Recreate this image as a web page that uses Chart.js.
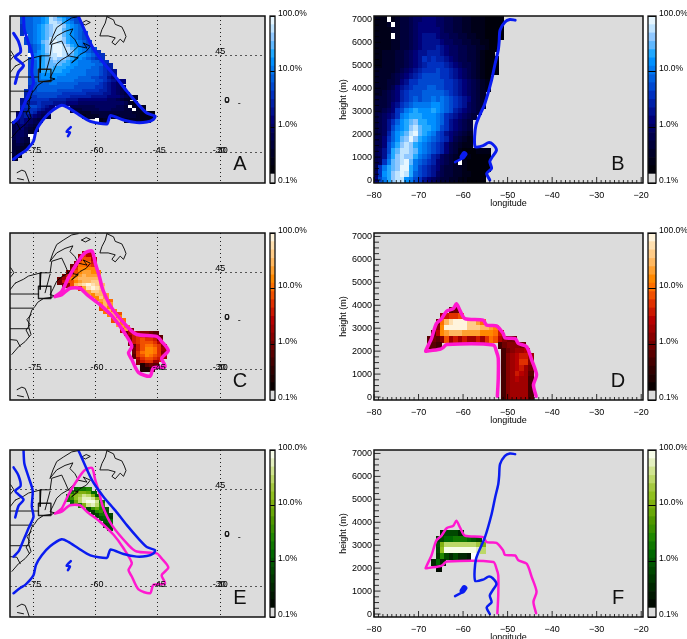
<!DOCTYPE html>
<html>
<head>
<meta charset="utf-8">
<title>Plume panels</title>
<script src="https://cdn.jsdelivr.net/npm/chart.js@4"></script>
<style>
body { margin: 0; background: #fff; overflow: hidden; }
#page { position: relative; width: 687px; height: 639px; overflow: hidden; }
canvas { position: absolute; filter: blur(0.35px); }
</style>
</head>
<body>
<div id="page"></div>
<script>
// colour bar: upper edge of each band in percent
var bandEdges = [0.1, 0.145, 0.205, 0.288, 0.406, 0.573, 0.807, 1.14, 1.6, 2.26, 3.19, 4.5, 6.34, 8.9, 12.6, 17.7, 25, 35, 49.7, 70, 100];
var blues = ["#dcdcdc","#00000a","#000018","#000028","#00003a","#00004c","#000060","#000078","#001090","#0020a8","#0030c0","#0048d0","#0060e0","#0078f0","#0090ff","#20a8ff","#60b8ff","#90c8ff","#c0e4ff","#e6f6ff"];
var reds = ["#dcdcdc","#0a0000","#200000","#300000","#440000","#5a0000","#700000","#880000","#a00000","#b80000","#cc1800","#e03000","#f05000","#ff7000","#ff8800","#ffa030","#ffb860","#ffcc88","#ffe0b0","#fff4dc"];
var greens = ["#dcdcdc","#000a00","#001800","#002800","#003800","#004800","#005800","#006800","#107800","#208800","#3a9000","#509800","#68a808","#80b010","#90c020","#a4c840","#bcd868","#d0e490","#e4f0c0","#f6fce8"];
var barTicks = [0.1, 1, 10, 100];

var mapLonTicks = [-75, -60, -45, -30];
var mapLatTicks = [45, 30];
var lonTicks = [-80, -70, -60, -50, -40, -30, -20];
var heightTicks = [0, 1000, 2000, 3000, 4000, 5000, 6000, 7000];
// text, lon, lat
var mapLabels = [["-75",-74.7,30],["-60",-59.7,30],["-45",-44.7,30],["-30",-30.2,30],["30",-29.4,30],["45",-30,45.3],["0",-28.4,37.8],["0",-28.3,37.8],["-",-28.35,37.6],["-",-25.4,37.2]];

// coast and border lines, lon/lat
var coastNorthShore = [[-64.2,51.1],[-65.8,50.9],[-67.8,50.1],[-69.4,49.4],[-70.3,48.1],[-71,46.8]];
var coastSouthShore = [[-71,46.8],[-69.4,48.1],[-67.4,48.8],[-65.5,49.2],[-66.2,48.3],[-65,47.5],[-64.2,46.5],[-66.6,45],[-68.2,44.4],[-69.4,43.7],[-70.2,42.6],[-71,41.6],[-69.8,41.4],[-70.6,41.2],[-72.6,41],[-74,40.4],[-74.6,39.8],[-75.4,39.2],[-76,38],[-76.2,36.7],[-75.6,35.4],[-77,34.3],[-78.6,33.5],[-80.2,32.3]];
var coastNovaScotia = [[-64.2,46.5],[-62.1,46.2],[-63,47],[-61.3,46.5],[-62.3,45.7],[-63.8,45.2],[-65.8,43.9],[-64.2,44.7],[-66.6,45]];
var coastBay = [[-75.6,38.5],[-76.6,37.7],[-75.8,36.9],[-76.8,36.1],[-76,35.1]];
var borderCanada = [[-79.4,43.4],[-77.4,44],[-76.2,44.5],[-73.2,45],[-71,45],[-70.6,46.8],[-68.2,47.3],[-67.4,46.2],[-66.6,45]];
var borderVermont = [[-73.2,45],[-73.4,42.4]];
var borderNewHampshire = [[-71,44.8],[-72.2,41.9]];
var borderNewYork = [[-80.6,41.7],[-73.8,41.7]];
var borderPenn = [[-80.6,39.5],[-75.2,39.5]];
var borderVirginia = [[-80.6,36.3],[-76.2,36.3]];
var borderCarolina = [[-80.6,34.6],[-79,34.5],[-78.2,33.5]];
var lakeHuron = [[-80.5,45.8],[-79.7,45],[-80.6,44.3]];
var lakeErie = [[-79.4,43.4],[-80.6,42.4]];
var bahamasA = [[-79,26.8],[-77.8,27.2],[-77,27],[-76.4,26],[-76,25.2]];
var bahamasB = [[-78.9,25.9],[-77.4,25.7]];
var newfoundland = [[-57.3,51.1],[-55.7,50.6],[-55.3,49.9],[-53.7,49.5],[-53.1,48.7],[-52.7,48],[-53.3,47.1],[-54.1,47.6],[-55.3,46.7],[-56.1,47.1],[-55.3,47.8],[-57,48.1],[-59,48.1],[-58.5,49.1],[-57.7,50.1],[-57.3,51.1]];
var anticosti = [[-63.4,50.1],[-62.3,50.5],[-61.3,50.2],[-62.5,49.8],[-63.4,50.1]];
var siteBox = [[-73.8,42.9],[-70.8,42.9],[-70.8,41],[-73.8,41],[-73.8,42.9]];

// plume outlines on the map, lon/lat
var blueWest = [[-77.4,51.2],[-77.2,49.1],[-76.2,47],[-75.2,44.9],[-75.4,42.4],[-75,40.8],[-76.2,39],[-77.4,37.2],[-78.6,35.4],[-79.8,34.6]];
var blueMain = [[-79.8,28.9],[-78.2,29.7],[-77,30.2],[-76.2,30.7],[-75,31.7],[-74.4,33.3],[-73,34.8],[-71,36.2],[-68.2,37.3],[-66.6,36.9],[-64.2,35.9],[-61.3,34.8],[-57.3,34.4],[-56.9,35],[-56.4,35.7],[-53.3,35],[-50.1,34.6],[-47.7,34.7],[-46.1,35.1],[-45.7,35.6],[-47.7,36.1],[-49.7,37.4],[-52.5,39.5],[-55.3,41.8],[-58.1,43.9],[-60.9,46.5],[-64.2,51.2]];
var blueLakes = [[-79.8,48.5],[-78.6,47.2],[-78.1,45.6],[-79.4,44.8],[-77.4,43.5],[-78.6,42.5],[-79.4,40.7]];
var blueSpeck = [[-66,33.9],[-67,33.2],[-66.2,33.1],[-66.7,32.5]];
var pinkMap = [[-69.8,41.3],[-68.2,42.1],[-66.6,44.2],[-64.2,46.8],[-62.6,48.1],[-60.9,48.4],[-60.1,46.5],[-59.1,44.4],[-58.3,42.4],[-56.1,39.5],[-52.1,36.4],[-50.1,35.4],[-45.3,35.1],[-44.1,34.3],[-42.5,32.9],[-44.1,31.7],[-43.3,30.4],[-46.1,30.2],[-46.9,28.9],[-49.7,29.5],[-51.3,31.5],[-52.1,32.5],[-51.3,33.6],[-53.3,35.9],[-55.7,38],[-58.9,40],[-62.1,41.6],[-63.8,42.6],[-66.2,42.6],[-68.2,41.6],[-69.8,41.3]];

// plume outlines in the section, lon/height
var blueSection = [[-48.3,6970],[-49.5,7000],[-50.6,6890],[-51.7,6530],[-51.9,6020],[-52.1,5660],[-52.8,5080],[-53.6,4350],[-55.1,3340],[-57.1,2400],[-57.3,1450],[-55.5,1500],[-54.3,1630],[-53.4,1570],[-52.5,1310],[-53.4,1020],[-54,800],[-53.6,510],[-54.7,290],[-54,0]];
var blueDisc = [[-59.7,1130],[-60.1,1020]];
var blueTail = [[-60.3,930],[-61.8,780]];
var pinkSection = [[-52.3,30],[-52.1,820],[-52.1,1690],[-52.5,1980],[-53.2,2270],[-63.7,2290],[-64.5,2150],[-65.2,2080],[-68.1,2000],[-68.4,2000],[-67.1,2550],[-66,3200],[-64.8,3420],[-63.7,3740],[-62.2,3850],[-61.5,4070],[-60.7,3780],[-59.6,3420],[-55.5,3350],[-54.7,3130],[-52.5,3100],[-51,2770],[-50.6,2580],[-48.3,2550],[-47.6,2340],[-45.7,2190],[-44.6,1620],[-43.5,970],[-44.2,530],[-43.6,30]];

// heat cells: [lat or height, lon of first cell, one level per cell], "." empty, "w" white
var rowsA = [
[51,-80.5,"...bccddefihfedcb"],[50.5,-80.5,"...bccddefihgfdcb"],[50,-80.5,"...bccddefiihfedb"],[49.5,-80.5,"...accdefghiihfedc"],
[49,-80.5,"...accdefghiigfedc"],[48.5,-80.5,"...accdefghiigfedcb"],[48,-80.5,"....wcdefghiigfedcb"],[47.5,-80.5,"....bcdefgiiihfedcb"],
[47,-80.5,"....bcdeghijihfeedcb"],[46.5,-80.5,".....bcdfhijjihfedcb"],[46,-80.5,".....bcdfhijjiigfedcb"],[45.5,-80.5,".....bcefhijjiihfedcba"],
[45,-80.5,".....wdefgiijihgfeedcba"],[44.5,-80.5,".....bdefghihhgfeedcbaa"],[44,-80.5,".....bcefgghggfeedddccba"],[43.5,-80.5,".....bcefggggffeeddddcca9"],
[43,-80.5,".....bcefggfffeeddddccba9"],[42.5,-80.5,".....bcdfffffeeddddcccba98"],[42,-80.5,".....bcdeeeeeedddddcccba98"],[41.5,-80.5,".....bcdeeeedddddcccbbaa87"],
[41,-80.5,".....bcdddddddddcccccbba9877"],[40.5,-80.5,".....bbcccddcccccbbbbba9876"],[40,-80.5,".....abcccccccccbbbbbaa98765"],[39.5,-80.5,"....aabcccccbbbbbbaaaa998765"],
[39,-80.5,"....9abbbbbbbaaaaaa9999887654"],[38.5,-80.5,"....9aabbbbbaaa9999988887776543"],[38,-80.5,"...89aaaaa9999888777777766543"],[37.5,-80.5,"...8999a99988877766666666666532"],
[37,-80.5,"...9abba987....55555566666554w332"],[36.5,-80.5,"...89aa987.....444555566655544w32"],[36,-80.5,"..789a976........333444444444433221"],[35.5,-80.5,"..78987654........233344.3344443222"],
[35,-80.5,"..787654.............w23....233322"],[34.5,-80.5,".678765"],[34,-80.5,".567654"],[33.5,-80.5,".567543"],[33,-80.5,".56653"],[32.5,-80.5,".5665w"],
[32,-80.5,".5654"],[31.5,-80.5,".4654"],[31,-80.5,".4543"],[30.5,-80.5,".443"],[30,-80.5,".43"],[29.5,-80.5,".43"],[29,-80.5,".3"]];

var rowsC = [
[48,-62.5,"89"],[47.5,-63.5,"8b9"],[47,-63.5,"8cc9"],[46.5,-64.5,"7cdda"],[46,-65.5,"69ddcb"],[45.5,-65.5,"7beeee"],[45,-66.5,"79ceffee"],
[44.5,-67.5,"7acefgfff"],[44,-68.5,"68cefggggg"],[43.5,-68.5,"6accefgghh"],[43,-67.5,"68cghijihg"],[42.5,-63.5,"bfijih"],[42,-61.5,"fhhg"],
[41.5,-60.5,"eggf"],[41,-59.5,"ehf"],[40.5,-58.5,"fgd"],[40,-58.5,"egf"],[39.5,-58.5,"cge"],[39,-57.5,"dge"],[38.5,-56.5,"egc"],[38,-55.5,"ge"],
[37.5,-55.5,"cgd"],[37,-54.5,"fe"],[36.5,-53.5,"fe"],[36,-53.5,"9f7"],[35.5,-52.5,"69a87765"],[35,-51.5,"7abbaa75"],[34.5,-51.5,"6abcbba6"],
[34,-51.5,"6abcccb9"],[33.5,-50.5,"5acddcb7"],[33,-50.5,"6aceedb8"],[32.5,-50.5,"6bdeedb7"],[32,-50.5,"5bcedcb8"],[31.5,-49.5,"9bccba"],
[31,-49.5,"7abb8"],[30.5,-48.5,"2565"],[30,-48.5,"223"]];

var rowsE = [
[45,-64.5,"7889"],[44.5,-65.5,"8cddc7"],[44,-66.5,"7cefhgd6"],[43.5,-66.5,"8aegiihd"],[43,-65.5,"7cgijjh8"],[42.5,-63.5,"8dhiga"],
[42,-61.5,"5ac96"],[41.5,-60.5,"49a5"],[41,-59.5,"5885"],[40.5,-58.5,"674"],[40,-57.5,"67"],[39.5,-57.5,"45"],[39,-56.5,"5"]];

var rowsB = [
[7000,-79.5,"222w2344566777665544332221111"],[6750,-79.5,"2223w344567777665544332221111"],[6500,-79.5,"22223344567777765544332221111"],
[6250,-79.5,"2222w344567888766554433221111"],[6000,-79.5,"2222334456788887665544332211"],[5750,-79.5,"2222334456788898766554433211"],
[5500,-79.5,"223334456788999876655443211"],[5250,-79.5,"22333445678a9a99876554432111"],[5000,-79.5,"223334456789aaaa987655432111"],
[4750,-79.5,"33333456789aaabaa98765432111"],[4500,-79.5,"3333456789abbbbaa987654321"],[4250,-79.5,"33344578aabbbbbbaa98765432"],
[4000,-79.5,"33345789abbbccbbaa98765432"],[3750,-79.5,"3345679abbbcccccba9876543"],[3500,-79.5,"4445679abcbccdcdcba987543"],
[3250,-79.5,"444578abcddddeedcba986543"],[3000,-79.5,"44567abdefeeefedcb987654"],[2750,-79.5,"45678adefffeeedca987654"],
[2500,-79.5,"4568acefghffeedca87654"],[2250,-79.5,"4568bdefhigffedba87654"],[2000,-79.5,"4569cefgijgfedba876543"],
[1750,-79.5,"557aceghjhfedcba975432"],[1500,-79.5,"557bdfhihfedcba9754322"],[1250,-79.5,"568bfgiihgedcba97542111222"],
[1000,-79.5,"568cfhihhfdcb9865432121111"],[750,-79.5,"56adghijgdcba976543w211111"],[500,-79.5,"5adfghjjfdba98754433211111"],
[250,-79.5,"6aefhijifcba9865443322111"],[0,-79.5,"7bdfhiiedba87654433221111"]];

var rowsD = [
[3750,-62.5,"56"],[3500,-64.5,"8abbc"],[3250,-65.5,"6dgijjjhhfd"],[3000,-65.5,"7ejjjjjhhhggfe"],[2750,-66.5,"59efgggffffeeeda"],
[2500,-67.5,"5657c8a8a88a8bdc9766"],[2250,-67.5,"554.............467776"],[2000,-50.7,"467889"],[1750,-50.7,"4789aa8"],[1500,-50.7,"4789bb7"],
[1250,-50.7,"4789a86"],[1000,-50.7,"478a985"],[750,-50.7,"4789884"],[500,-50.7,"4788884"],[250,-50.7,"4788884"],[0,-50.7,"4788884"]];

var rowsF = [
[3500,-64.5,"35553"],[3250,-65.5,"4577888765"],[3000,-65.5,"6dgggggggfd"],[2750,-65.5,"5ejjjjjjjig"],[2500,-65.5,"49535332w"],[2250,-66.5,"373"],[2000,-65.5,"1"]];

var levelChars = "0123456789abcdefghij";
var imgCache = {};

function cellsFrom(rows){
	var out = [];
	rows.forEach(function(row){
		for(var i = 0; i < row[2].length; i++){
			var c = row[2][i];
			if(c == ".") continue;
			out.push({x: row[1] + i, y: row[0], level: c == "w" ? -1 : levelChars.indexOf(c)});
		}
	});
	return out;
}

// one small canvas per colour, the size of a cell on this chart's scales
function cellImage(ctx, palette, dLat){
	var raw = ctx.raw;
	if(!raw) return "rect";
	var sx = ctx.chart.scales.x, sy = ctx.chart.scales.y;
	var w = Math.ceil(Math.abs(sx.getPixelForValue(1) - sx.getPixelForValue(0))) + 1;
	var h = Math.ceil(Math.abs(sy.getPixelForValue(dLat) - sy.getPixelForValue(0))) + 1;
	var col = raw.level < 0 ? "#ffffff" : palette[raw.level];
	var key = col + w + "x" + h;
	if(!imgCache[key]){
		var c = document.createElement("canvas");
		c.width = w; c.height = h;
		var g = c.getContext("2d");
		g.fillStyle = col;
		g.fillRect(0, 0, w, h);
		imgCache[key] = c;
	}
	return imgCache[key];
}

function lineSet(points, color, width, order){
	return {
		type: "scatter", showLine: true, order: order,
		data: points.map(function(p){ return {x: p[0], y: p[1]}; }),
		borderColor: color, backgroundColor: color, borderWidth: width,
		borderCapStyle: "round", borderJoinStyle: "round",
		pointRadius: 0, fill: false, tension: 0.25
	};
}

function heatSet(rows, palette, dY){
	return {
		type: "scatter", order: 50, data: cellsFrom(rows),
		pointRadius: 2, borderWidth: 0,
		pointStyle: function(ctx){ return cellImage(ctx, palette, dY); }
	};
}

function coastSets(){
	var thin = [coastNorthShore, coastSouthShore, coastNovaScotia, coastBay, borderCanada, borderVermont, borderNewHampshire,
		borderNewYork, borderPenn, borderVirginia, borderCarolina, lakeHuron, lakeErie, bahamasA, bahamasB, newfoundland, anticosti];
	var sets = thin.map(function(line){
		var s = lineSet(line, "#000", 0.9, 20);
		s.tension = 0;
		return s;
	});
	var box = lineSet(siteBox, "#222", 1.4, 20);
	box.tension = 0;
	sets.push(box);
	return sets;
}

// background, inward ticks, frame, labels
var panelDecor = {
	id: "panelDecor",
	beforeDraw: function(chart){
		var a = chart.chartArea, ctx = chart.ctx;
		ctx.save();
		ctx.fillStyle = "#dcdcdc";
		ctx.fillRect(a.left, a.top, a.right - a.left, a.bottom - a.top);
		ctx.restore();
	},
	afterDatasetsDraw: function(chart, args, opts){
		var a = chart.chartArea, ctx = chart.ctx, sx = chart.scales.x, sy = chart.scales.y;
		ctx.save();
		ctx.strokeStyle = "#000";
		ctx.fillStyle = "#000";
		if(opts.section){
			ctx.lineWidth = 0.8;
			ctx.beginPath();
			for(var lon = -80; lon <= -20; lon++){
				var px = sx.getPixelForValue(lon);
				ctx.moveTo(px, a.bottom);
				ctx.lineTo(px, a.bottom - (lon % 10 == 0 ? 6 : 3));
			}
			for(var h = 0; h <= 7000; h += 250){
				var py = sy.getPixelForValue(h);
				ctx.moveTo(a.left, py);
				ctx.lineTo(a.left + (h % 1000 == 0 ? 6.5 : 5), py);
			}
			ctx.stroke();
		} else {
			ctx.font = "9px 'Liberation Sans'";
			ctx.textAlign = "center";
			ctx.textBaseline = "middle";
			mapLabels.forEach(function(l){
				ctx.fillText(l[0], sx.getPixelForValue(l[1]), sy.getPixelForValue(l[2]) - 2);
			});
		}
		ctx.lineWidth = 1.5;
		ctx.strokeStyle = "#111";
		ctx.strokeRect(a.left, a.top, a.right - a.left, a.bottom - a.top);
		ctx.font = "20px 'Liberation Sans'";
		ctx.textAlign = "center";
		ctx.textBaseline = "middle";
		ctx.fillStyle = "#111";
		ctx.fillText(opts.letter, a.right + opts.letterDx, a.bottom - 19);
		ctx.restore();
	}
};
Chart.register(panelDecor);

var baseOpts = {
	animation: false, responsive: false, events: [],
	plugins: {legend: {display: false}, tooltip: {enabled: false}}
};

function addCanvas(left, top, w, h){
	var c = document.createElement("canvas");
	c.width = w; c.height = h;
	c.style.left = left + "px"; c.style.top = top + "px";
	c.style.width = w + "px"; c.style.height = h + "px";
	document.getElementById("page").appendChild(c);
	return c;
}

function mapPanel(top, letter, sets){
	new Chart(addCanvas(0, top, 285, 200), {
		type: "scatter",
		data: {datasets: sets},
		options: Object.assign({}, baseOpts, {
			layout: {padding: {left: 10, top: 16, right: 20, bottom: 17}},
			plugins: Object.assign({}, baseOpts.plugins, {panelDecor: {section: false, letter: letter, letterDx: -25}}),
			scales: {
				x: {
					type: "linear", min: -80.66, max: -19.2,
					afterBuildTicks: function(s){ s.ticks = mapLonTicks.map(function(v){ return {value: v}; }); },
					ticks: {display: false},
					grid: {color: "#222", drawTicks: false},
					border: {display: false, dash: [1, 3]}
				},
				y: {
					type: "linear", min: 25.2, max: 51.2,
					afterBuildTicks: function(s){ s.ticks = mapLatTicks.map(function(v){ return {value: v}; }); },
					ticks: {display: false},
					grid: {color: "#555", drawTicks: false},
					border: {display: false, dash: [2, 3]}
				}
			}
		})
	});
}

function sectionPanel(top, letter, sets){
	new Chart(addCanvas(338, top, 322, 212), {
		type: "scatter",
		data: {datasets: sets},
		options: Object.assign({}, baseOpts, {
			layout: {padding: {left: 0, top: 16, right: 17, bottom: 3}},
			plugins: Object.assign({}, baseOpts.plugins, {panelDecor: {section: true, letter: letter, letterDx: -25}}),
			scales: {
				x: {
					type: "linear", min: -80, max: -19.6,
					afterBuildTicks: function(s){ s.ticks = lonTicks.map(function(v){ return {value: v}; }); },
					afterFit: function(s){ s.height = 26; },
					grid: {display: false, drawTicks: false},
					border: {display: false},
					ticks: {
						padding: 7, maxRotation: 0, autoSkip: false, color: "#000",
						font: {family: "'Liberation Sans'", size: 9},
						callback: function(v){ return "\u2212" + Math.abs(v); }
					},
					title: {display: true, text: "longitude", color: "#000", padding: 0, font: {family: "'Liberation Sans'", size: 9}}
				},
				y: {
					type: "linear", min: -130, max: 7150,
					afterBuildTicks: function(s){ s.ticks = heightTicks.map(function(v){ return {value: v}; }); },
					afterFit: function(s){ s.width = 36; },
					grid: {display: false, drawTicks: false},
					border: {display: false},
					ticks: {padding: 2, autoSkip: false, color: "#000", font: {family: "'Liberation Sans'", size: 9}, callback: function(v){ return "" + v; }},
					title: {display: true, text: "height (m)", color: "#000", padding: 0, font: {family: "'Liberation Sans'", size: 9}}
				}
			}
		})
	});
}

function colorBar(left, top, barW, axisW, palette){
	var sets = palette.map(function(col, i){
		return {data: [[bandEdges[i], bandEdges[i + 1]]], backgroundColor: col, borderWidth: 0, barPercentage: 1, categoryPercentage: 1, grouped: false};
	});
	var edge = {
		id: "barEdge",
		afterDraw: function(chart){
			var a = chart.chartArea, ctx = chart.ctx;
			ctx.save();
			ctx.strokeStyle = "#111";
			ctx.lineWidth = 1.3;
			ctx.strokeRect(a.left, a.top, a.right - a.left, a.bottom - a.top);
			ctx.restore();
		}
	};
	new Chart(addCanvas(left, top, 5 + barW + axisW, 200), {
		type: "bar",
		data: {labels: [""], datasets: sets},
		plugins: [edge],
		options: Object.assign({}, baseOpts, {
			layout: {padding: {left: 5, top: 16, right: 0, bottom: 17}},
			plugins: Object.assign({}, baseOpts.plugins, {panelDecor: false}),
			scales: {
				x: {display: false},
				y: {
					type: "logarithmic", position: "right", min: 0.1, max: 100,
					afterBuildTicks: function(s){ s.ticks = barTicks.map(function(v){ return {value: v}; }); },
					afterFit: function(s){ s.width = axisW; },
					grid: {color: "#000", lineWidth: 1, drawTicks: false, z: 1},
					border: {display: false},
					ticks: {
						padding: 3, autoSkip: false, color: "#000", align: "center",
						font: {family: "'Liberation Sans'", size: 8.5, lineHeight: 0.6},
						callback: function(v){ return [Number(v).toFixed(1) + "%", ""]; }
					}
				}
			}
		})
	});
}

// top row
mapPanel(0, "A", [heatSet(rowsA, blues, 0.5)].concat(coastSets(),
	[lineSet(blueWest, "#0a1cf0", 3, 1), lineSet(blueMain, "#0a1cf0", 3, 1), lineSet(blueLakes, "#0a1cf0", 3, 1), lineSet(blueSpeck, "#0a1cf0", 2.5, 1)]));
sectionPanel(0, "B", [heatSet(rowsB, blues, 250),
	lineSet(blueSection, "#0a1cf0", 3, 1), lineSet(blueDisc, "#0a1cf0", 6, 1), lineSet(blueTail, "#0a1cf0", 2.5, 1)]);
colorBar(265, 0, 5, 45, blues);
colorBar(643, 0, 8, 31, blues);

// middle row
mapPanel(217, "C", [heatSet(rowsC, reds, 0.5)].concat(coastSets(), [lineSet(pinkMap, "#ff18d0", 3.5, 1)]));
sectionPanel(217, "D", [heatSet(rowsD, reds, 250), lineSet(pinkSection, "#ff18d0", 3.5, 1)]);
colorBar(265, 217, 5, 45, reds);
colorBar(643, 217, 8, 31, reds);

// bottom row
mapPanel(434, "E", [heatSet(rowsE, greens, 0.5)].concat(coastSets(),
	[lineSet(pinkMap, "#ff18d0", 2.5, 2), lineSet(blueWest, "#0a1cf0", 2.5, 1), lineSet(blueMain, "#0a1cf0", 2.5, 1), lineSet(blueLakes, "#0a1cf0", 2.5, 1), lineSet(blueSpeck, "#0a1cf0", 2.5, 1)]));
sectionPanel(434, "F", [heatSet(rowsF, greens, 250), lineSet(pinkSection, "#ff18d0", 2.5, 2),
	lineSet(blueSection, "#0a1cf0", 2.5, 1), lineSet(blueDisc, "#0a1cf0", 6, 1), lineSet(blueTail, "#0a1cf0", 2.5, 1)]);
colorBar(265, 434, 5, 45, greens);
colorBar(643, 434, 8, 31, greens);
</script>
</body>
</html>
